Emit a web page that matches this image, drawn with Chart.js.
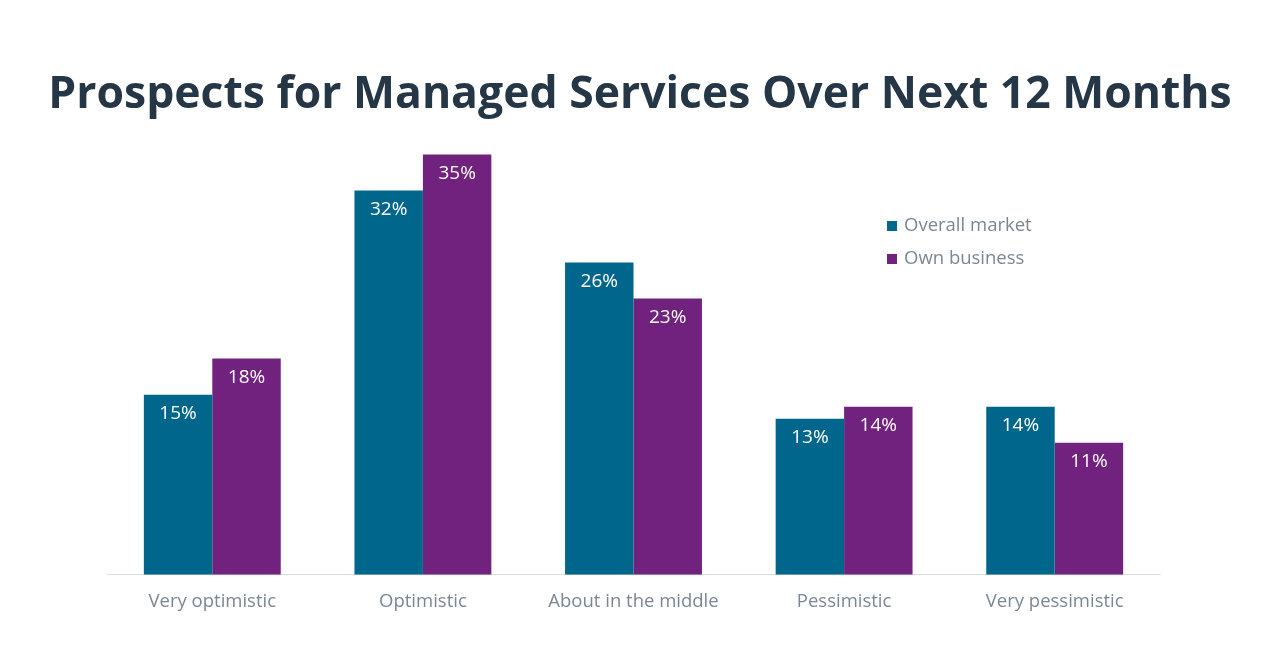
<!DOCTYPE html>
<html><head><meta charset="utf-8">
<script src="https://cdn.jsdelivr.net/npm/chart.js@4.4.1/dist/chart.umd.min.js"></script>
<style>html,body{margin:0;padding:0;background:#fff;}#wrap{width:1280px;height:658px;}</style>
</head><body><div id="wrap"><canvas id="c" width="1280" height="658"></canvas></div>
<script>
const titleText = "Prospects for Managed Services Over Next 12 Months";
const categories = ["Very optimistic","Optimistic","About in the middle","Pessimistic","Very pessimistic"];
const seriesNames = ["Overall market","Own business"];
const overallMarket = [15,32,26,13,14];
const ownBusiness = [18,35,23,14,11];
const colors = ["#00668C","#71217E"];

const labelsPlugin = {
  id:'labelsPlugin',
  afterDatasetsDraw(chart){
    const ctx = chart.ctx;
    ctx.save();
    ctx.font = '19px "Open Sans"';
    ctx.fillStyle = '#ffffff';
    ctx.textAlign = 'center';
    ctx.textBaseline = 'middle';
    chart.data.datasets.forEach((ds,i)=>{
      chart.getDatasetMeta(i).data.forEach((bar,j)=>{
        ctx.fillText(ds.data[j]+'%', bar.x, bar.y+19);
      });
    });
    const lx = 887, ly = [226,259];
    chart.data.datasets.forEach((ds,i)=>{
      ctx.fillStyle = ds.backgroundColor;
      ctx.fillRect(lx, ly[i]-5, 10, 10);
      ctx.fillStyle = '#7b8794';
      ctx.textAlign = 'left';
      ctx.font = '18.5px "Open Sans"';
      ctx.fillText(ds.label, lx+17, ly[i]);
    });
    ctx.restore();
  }
};

new Chart(document.getElementById('c'), {
  type:'bar',
  data:{
    labels: categories,
    datasets:[
      {label:seriesNames[0], data:overallMarket, backgroundColor:colors[0], yAxisID:'y'},
      {label:seriesNames[1], data:ownBusiness, backgroundColor:colors[1], yAxisID:'y'}
    ]
  },
  options:{
    responsive:false,
    animation:false,
    layout:{padding:{left:20,right:20,top:0,bottom:29}},
    datasets:{bar:{barPercentage:1,categoryPercentage:0.65}},
    plugins:{
      legend:{display:false},
      tooltip:{enabled:false},
      title:{display:true,text:titleText,color:'#253746',font:{family:'"Open Sans"',size:44.5,weight:'bold'},padding:{top:69,bottom:20}}
    },
    scales:{
      x:{grid:{display:false,drawTicks:false},border:{display:true,color:'#d6dfe8',width:1},
         ticks:{color:'#7b8794',font:{family:'"Open Sans"',size:18.5},padding:16}},
      y:{display:true,position:'left',min:0,max:36,grid:{display:false,drawTicks:false},border:{display:false},
         ticks:{display:false},afterFit(s){s.width=87;}},
      yR:{display:true,position:'right',min:0,max:36,grid:{display:false,drawTicks:false},border:{display:false},
         ticks:{display:false},afterFit(s){s.width=100;}}
    }
  },
  plugins:[labelsPlugin]
});
</script></body></html>
